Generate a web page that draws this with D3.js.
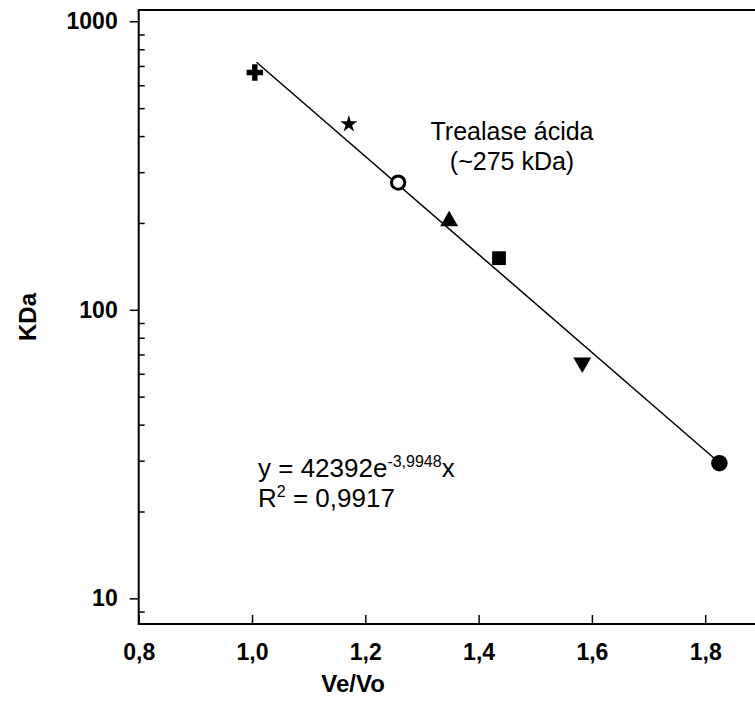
<!DOCTYPE html>
<html>
<head>
<meta charset="utf-8">
<script src="https://cdn.jsdelivr.net/npm/d3@7"></script>
<style>
	body { margin: 0; background: #fff; }
	svg { display: block; font-family: 'Liberation Sans', Arial, sans-serif; }
</style>
</head>
<body>
<svg id="chart"></svg>
<script>
const width = 755, height = 716;

// standards
const veVo = [1.005, 1.171, 1.258, 1.348, 1.436, 1.583, 1.825];
const kDa = [664, 440, 276, 203, 151, 65.6, 29.4];
const shapes = ['cross', 'star', 'ring', 'triangle', 'square', 'triangleDown', 'circle'];

// ends of the exponential fit
const fitVeVo = [1.008, 1.826];
const fitKDa = [721, 29.4];

const xTicks = [0.8, 1.0, 1.2, 1.4, 1.6, 1.8];
const yMajor = [10, 100, 1000];
const yMinor = [9, 20, 30, 40, 50, 60, 70, 80, 90, 200, 300, 400, 500, 600, 700, 800, 900];

const plotLeft = 138.7, plotTop = 10, plotBottom = 624;

const svg = d3.select('#chart')
	.attr('width', width)
	.attr('height', height);

const x = d3.scaleLinear().domain([0.8, 2.0]).range([plotLeft, plotLeft + 6 * 113.3]);
const y = d3.scaleLog().domain([8.15, 1094]).range([plotBottom, plotTop]);

const fmt = d => d3.format('.1f')(d).replace('.', ',');

// x axis, ticks pointing in
svg.append('g')
	.attr('transform', `translate(0,${plotBottom})`)
	.call(d3.axisBottom(x).tickValues(xTicks).tickSize(-9).tickPadding(20).tickFormat(fmt))
	.call(g => g.select('.domain').remove())
	.call(g => g.selectAll('line').attr('stroke-width', 1.5))
	.call(g => g.selectAll('text').attr('font-size', 23).attr('font-weight', 'bold').attr('fill', '#000'));

// y axis, major out / minor in
svg.append('g')
	.attr('transform', `translate(${plotLeft},0)`)
	.call(d3.axisLeft(y).tickValues(yMajor).tickSize(9).tickPadding(12).tickFormat(d3.format('d')))
	.call(g => g.select('.domain').remove())
	.call(g => g.selectAll('line').attr('stroke-width', 1.5))
	.call(g => g.selectAll('text').attr('font-size', 23).attr('font-weight', 'bold').attr('fill', '#000'));

svg.append('g')
	.attr('transform', `translate(${plotLeft},0)`)
	.call(d3.axisLeft(y).tickValues(yMinor).tickSize(-6).tickFormat(''))
	.call(g => g.select('.domain').remove())
	.call(g => g.selectAll('line').attr('stroke-width', 1.5));

// frame
svg.append('rect')
	.attr('x', plotLeft).attr('y', plotTop)
	.attr('width', x(2.0) - plotLeft).attr('height', plotBottom - plotTop)
	.attr('fill', 'none').attr('stroke', '#000').attr('stroke-width', 2);

// fit line
svg.append('path')
	.datum(d3.zip(fitVeVo, fitKDa))
	.attr('d', d3.line().x(d => x(d[0])).y(d => y(d[1])))
	.attr('fill', 'none').attr('stroke', '#000').attr('stroke-width', 1.5);

const symbolFor = {
	cross: [d3.symbolCross, 150, 0],
	star: [d3.symbolStar, 90, 0],
	ring: [d3.symbolCircle, 140, 0],
	triangle: [d3.symbolTriangle, 140, 0],
	square: [d3.symbolSquare, 190, 0],
	triangleDown: [d3.symbolTriangle, 140, 180],
	circle: [d3.symbolCircle, 215, 0]
};

svg.append('g').selectAll('path')
	.data(d3.range(veVo.length))
	.join('path')
	.attr('transform', i => `translate(${x(veVo[i])},${y(kDa[i])}) rotate(${symbolFor[shapes[i]][2]})`)
	.attr('d', i => d3.symbol(symbolFor[shapes[i]][0], symbolFor[shapes[i]][1])())
	.attr('fill', i => shapes[i] === 'ring' ? '#fff' : '#000')
	.attr('stroke', i => shapes[i] === 'ring' ? '#000' : 'none')
	.attr('stroke-width', 3);

// annotations
svg.append('text')
	.attr('x', 512).attr('y', 140)
	.attr('text-anchor', 'middle').attr('font-size', 25)
	.text('Trealase ácida');
svg.append('text')
	.attr('x', 512).attr('y', 170)
	.attr('text-anchor', 'middle').attr('font-size', 25)
	.text('(~275 kDa)');

const eq = svg.append('text')
	.attr('x', 258).attr('y', 477).attr('font-size', 26);
eq.append('tspan').text('y = 42392e');
eq.append('tspan').attr('dy', -10).attr('font-size', 16).text('-3,9948');
eq.append('tspan').attr('dy', 10).text('x');

const r2 = svg.append('text')
	.attr('x', 258).attr('y', 507).attr('font-size', 26);
r2.append('tspan').text('R');
r2.append('tspan').attr('dy', -10).attr('font-size', 16).text('2');
r2.append('tspan').attr('dy', 10).text(' = 0,9917');

// axis titles
svg.append('text')
	.attr('x', 353).attr('y', 692)
	.attr('text-anchor', 'middle').attr('font-size', 24).attr('font-weight', 'bold')
	.text('Ve/Vo');
svg.append('text')
	.attr('transform', 'translate(36,317) rotate(-90)')
	.attr('text-anchor', 'middle').attr('font-size', 24).attr('font-weight', 'bold')
	.text('KDa');
</script>
</body>
</html>
